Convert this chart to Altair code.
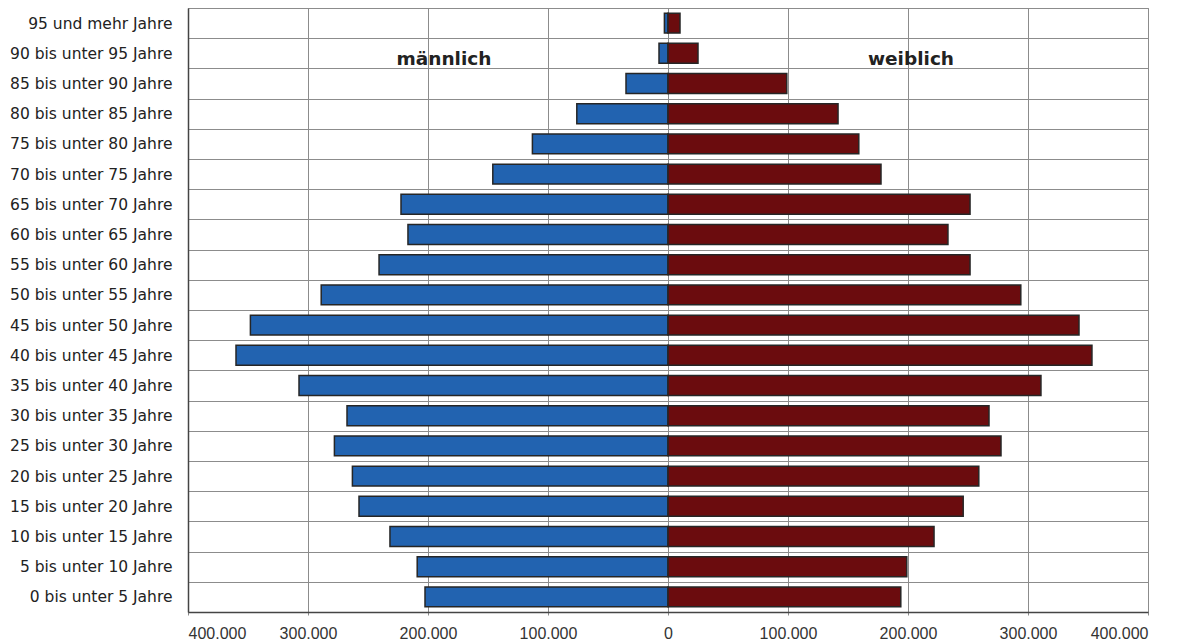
import altair as alt
import pandas as pd

ages = [
    "95 und mehr Jahre", "90 bis unter 95 Jahre", "85 bis unter 90 Jahre",
    "80 bis unter 85 Jahre", "75 bis unter 80 Jahre", "70 bis unter 75 Jahre",
    "65 bis unter 70 Jahre", "60 bis unter 65 Jahre", "55 bis unter 60 Jahre",
    "50 bis unter 55 Jahre", "45 bis unter 50 Jahre", "40 bis unter 45 Jahre",
    "35 bis unter 40 Jahre", "30 bis unter 35 Jahre", "25 bis unter 30 Jahre",
    "20 bis unter 25 Jahre", "15 bis unter 20 Jahre", "10 bis unter 15 Jahre",
    "5 bis unter 10 Jahre", "0 bis unter 5 Jahre",
]
maennlich = [3000, 7500, 35000, 76000, 113000, 146000, 222500, 216700, 240800,
             289000, 348000, 360000, 307500, 267500, 278000, 263000, 257500,
             231700, 209000, 202500]
weiblich = [10000, 25000, 99000, 141700, 159000, 177500, 251700, 233300, 251700,
            294000, 342500, 353300, 310800, 267500, 277500, 259000, 246000,
            221700, 199000, 194000]

rows = []
for a, m, w in zip(ages, maennlich, weiblich):
    rows.append({"age": a, "sex": "männlich", "value": -m})
    rows.append({"age": a, "sex": "weiblich", "value": w})
df = pd.DataFrame(rows)

labels = pd.DataFrame({
    "age": ["90 bis unter 95 Jahre", "90 bis unter 95 Jahre"],
    "text": ["männlich", "weiblich"],
    "value": [-186700, 202500],
})

FONT = "DejaVu Sans"

x = alt.X("value:Q",
          scale=alt.Scale(domain=[-400000, 400000], nice=False),
          axis=alt.Axis(values=[-400000, -300000, -200000, -100000, 0,
                                100000, 200000, 300000, 400000],
                        labelExpr="replace(format(abs(datum.value), ',d'), ',', '.')",
                        title=None, grid=True, gridColor="#8c8c8c", gridWidth=1,
                        domainColor="#444", domainWidth=1.5,
                        tickColor="#8c8c8c", tickSize=3,
                        labelFontSize=16, labelColor="#333", labelPadding=10,
                        labelFont="Liberation Sans"))
y = alt.Y("age:N", sort=ages,
          scale=alt.Scale(paddingInner=0, paddingOuter=0),
          axis=alt.Axis(title=None, tickBand="extent", grid=True,
                        gridColor="#8c8c8c", gridWidth=1, ticks=False,
                        domainColor="#444", domainWidth=1.5,
                        labelFontSize=15.5, labelColor="#222", labelPadding=16,
                        labelFont=FONT))

bars = alt.Chart(df).mark_bar(
    height={"band": 0.66}, stroke="#262626", strokeWidth=1.5
).encode(
    x=x, y=y,
    color=alt.Color("sex:N",
                    scale=alt.Scale(domain=["männlich", "weiblich"],
                                    range=["#2263b0", "#6b0c0e"]),
                    legend=None),
)

text = alt.Chart(labels).mark_text(
    fontSize=18.5, fontWeight="bold", font=FONT, color="#222",
    baseline="alphabetic", dy=12
).encode(
    x="value:Q", y=alt.Y("age:N", sort=ages), text="text:N"
)

chart = alt.layer(bars, text).properties(
    width=960, height=604,
    autosize=alt.AutoSizeParams(type="none"),
    padding={"left": 180, "top": 0, "right": 30, "bottom": 30},
).configure_view(stroke="#8c8c8c", strokeWidth=1)

chart.save("out.html", embed_options={"renderer": "svg", "actions": False})
